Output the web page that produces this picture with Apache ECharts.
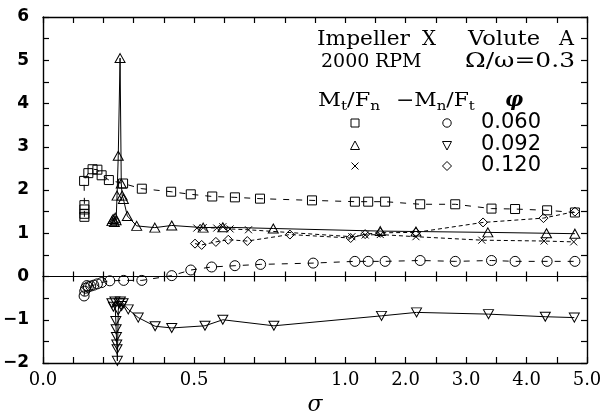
<!DOCTYPE html>
<html>
<head>
<meta charset="utf-8">
<script src="https://cdn.jsdelivr.net/npm/echarts@6/dist/echarts.min.js"></script>
<style>
  html, body { margin: 0; padding: 0; background: #fff; }
  #chart { width: 601px; height: 411px; }
</style>
</head>
<body>
<div id="chart"></div>
<script>
// σ axis: linear up to 1, then compressed (one unit of σ per 0.2 of axis)
const tickSigma = [0, 0.5, 1, 2, 3, 4, 5];
const tickLabels = ['0.0', '0.5', '1.0', '2.0', '3.0', '4.0', '5.0'];

// φ = 0.060 : Mt/Fn (squares) and −Mn/Ft (circles)
const sqSigma = [0.137, 0.137, 0.137, 0.137, 0.136, 0.150, 0.164, 0.180, 0.194, 0.218, 0.265, 0.327, 0.424, 0.489, 0.560, 0.635, 0.718, 0.890, 1.16, 1.38, 1.66, 2.24, 2.82, 3.42, 3.81, 4.34, 4.80];
const sqValue = [1.38, 1.45, 1.55, 1.65, 2.21, 2.39, 2.48, 2.47, 2.34, 2.23, 2.15, 2.03, 1.96, 1.90, 1.85, 1.83, 1.80, 1.76, 1.73, 1.73, 1.73, 1.67, 1.67, 1.57, 1.56, 1.53, 1.48];
const ciSigma = [0.136, 0.138, 0.141, 0.145, 0.150, 0.158, 0.168, 0.180, 0.194, 0.221, 0.267, 0.327, 0.426, 0.489, 0.558, 0.635, 0.720, 0.894, 1.16, 1.38, 1.66, 2.24, 2.82, 3.42, 3.81, 4.34, 4.80];
const ciValue = [-0.45, -0.34, -0.27, -0.21, -0.24, -0.22, -0.20, -0.17, -0.14, -0.10, -0.09, -0.09, 0.02, 0.15, 0.22, 0.25, 0.28, 0.31, 0.35, 0.35, 0.35, 0.37, 0.35, 0.37, 0.35, 0.35, 0.35];

// φ = 0.092 : Mt/Fn (up triangles) and −Mn/Ft (down triangles)
const tuSigma = [0.228, 0.232, 0.236, 0.239, 0.242, 0.245, 0.249, 0.255, 0.259, 0.262, 0.266, 0.279, 0.310, 0.370, 0.426, 0.530, 0.595, 0.762, 1.58, 2.17, 3.36, 4.33, 4.80];
const tuValue = [1.28, 1.33, 1.26, 1.36, 1.30, 1.87, 2.79, 5.05, 2.15, 1.87, 1.79, 1.40, 1.17, 1.13, 1.18, 1.13, 1.14, 1.11, 1.05, 1.04, 1.02, 1.00, 0.99];
const tdSigma = [0.228, 0.233, 0.238, 0.241, 0.242, 0.243, 0.244, 0.245, 0.246, 0.249, 0.252, 0.256, 0.260, 0.265, 0.282, 0.315, 0.371, 0.426, 0.536, 0.595, 0.764, 1.60, 2.18, 3.37, 4.31, 4.79];
const tdValue = [-0.62, -0.70, -0.58, -1.03, -1.22, -1.40, -1.57, -1.68, -1.95, -0.78, -0.62, -0.58, -0.68, -0.62, -0.76, -0.95, -1.15, -1.19, -1.14, -1.00, -1.14, -0.91, -0.83, -0.87, -0.93, -0.95];

// φ = 0.120 : Mt/Fn (crosses) and −Mn/Ft (diamonds)
const crSigma = [0.509, 0.530, 0.575, 0.595, 0.619, 0.680, 1.11, 1.33, 1.58, 2.17, 3.26, 4.29, 4.78];
const crValue = [1.12, 1.13, 1.12, 1.15, 1.10, 1.08, 0.92, 0.96, 0.97, 0.92, 0.84, 0.82, 0.80];
const diSigma = [0.503, 0.525, 0.572, 0.613, 0.676, 0.817, 1.09, 1.33, 1.58, 2.17, 3.28, 4.28, 4.80];
const diValue = [0.76, 0.73, 0.80, 0.85, 0.82, 0.97, 0.89, 0.98, 1.01, 1.02, 1.25, 1.35, 1.50];

function toAxis(s) { return s <= 1 ? s : 1 + (s - 1) / 5; }
function pairs(sig, val) { return sig.map((s, i) => [toAxis(s), val[i]]); }

const SERIF = '"DejaVu Serif"';
const SANS = '"DejaVu Sans"';
const BLACK = '#000';
const GRID = { left: 43, right: 14, top: 17, bottom: 48, outerBoundsMode: 'none' };
const X_MAX = toAxis(5);

function xLabel(v) {
  for (let i = 0; i < tickSigma.length; i++) {
    if (Math.abs(toAxis(tickSigma[i]) - v) < 1e-6) return tickLabels[i];
  }
  return '';
}
function yLabel(v) {
  if (Math.abs(v - Math.round(v)) > 1e-6) return '';
  const r = Math.round(v);
  return r < 0 ? '\u2212' + (-r) : String(r);
}

const frameLine = { show: true, onZero: false, lineStyle: { color: BLACK, width: 1.4 } };
const tick = (len) => ({ show: true, inside: true, length: len, lineStyle: { color: BLACK, width: 1.2 } });

function xAxisDef(extra) {
  return Object.assign({
    type: 'value', min: 0, max: X_MAX, interval: 0.1,
    axisLine: frameLine, axisTick: tick(6), splitLine: { show: false },
    axisLabel: { show: false }
  }, extra);
}
function yAxisDef(extra) {
  return Object.assign({
    type: 'value', min: -2, max: 6, interval: 0.5,
    axisLine: frameLine, axisTick: tick(6), splitLine: { show: false },
    axisLabel: { show: false }
  }, extra);
}

// zero line with ticks on both sides, drawn by two extra grids sharing the plot rectangle
const zeroLine = { show: true, onZero: true, lineStyle: { color: BLACK, width: 1.2 } };

function lineSeries(name, data, symbol, size, dash, extra) {
  return Object.assign({
    name, type: 'line', xAxisIndex: 0, yAxisIndex: 0, data,
    symbol, symbolSize: size, showAllSymbol: true,
    itemStyle: { color: 'rgba(0,0,0,0)', borderColor: BLACK, borderWidth: 1 },
    lineStyle: { color: BLACK, width: 1, type: dash },
    emphasis: { disabled: true }, animation: false, z: 3
  }, extra || {});
}

const CROSS = 'path://M0,0L10,10M10,0L0,10';

// text helpers
const measureCtx = document.createElement('canvas').getContext('2d');
function textWidth(text, font) { measureCtx.font = font; return measureCtx.measureText(text).width; }

// a word stretched horizontally to a given width, anchored at x
function fitText(x, y, text, font, width, align) {
  const w = textWidth(text, font);
  return { type: 'text', x, y, scaleX: width / w, silent: true,
    style: { text, font, fill: BLACK, align: align || 'left', verticalAlign: 'middle' } };
}
function txt(x, y, text, font, align) {
  return { type: 'text', x, y, silent: true,
    style: { text, font, fill: BLACK, align: align || 'left', verticalAlign: 'middle' } };
}
// runs of text (with subscripts) placed one after another, with a common stretch
function runText(x, y, runs, family, stretch) {
  const els = [];
  let cx = x;
  runs.forEach(r => {
    const font = r.size + 'px ' + family;
    els.push({ type: 'text', x: cx, y: y + (r.dy || 0), scaleX: stretch, silent: true,
      style: { text: r.t, font, fill: BLACK, align: 'left', verticalAlign: 'middle' } });
    cx += textWidth(r.t, font) * stretch;
  });
  return els;
}

const F20 = '20px ' + SERIF;
const F19 = '19px ' + SERIF;
const graphics = [
  fitText(317, 40, 'Impeller', F20, 93), fitText(422, 40, 'X', F20, 14),
  fitText(468, 40, 'Volute', F20, 72), fitText(574, 40, 'A', F20, 15, 'right'),
  txt(321, 62, '2000', F19), txt(375, 62, 'RPM', F19),
  fitText(575, 62, '\u03A9/\u03C9=0.3', F20, 110, 'right'),
  ...runText(318, 101, [{ t: 'M', size: 19 }, { t: 't', size: 13, dy: 6 }, { t: '/F', size: 19 }, { t: 'n', size: 13, dy: 6 }], SERIF, 1.18),
  ...runText(396, 101, [{ t: '\u2212M', size: 19 }, { t: 'n', size: 13, dy: 6 }, { t: '/F', size: 19 }, { t: 't', size: 13, dy: 6 }], SERIF, 1.15),
  txt(514, 101, '\u03C6', 'italic bold 20px ' + SERIF, 'center'),
  txt(511, 123, '0.060', '21px ' + SANS, 'center'),
  txt(511, 145, '0.092', '21px ' + SANS, 'center'),
  txt(511, 166, '0.120', '21px ' + SANS, 'center'),
  // legend markers
  { type: 'rect', silent: true, shape: { x: 351, y: 119, width: 8, height: 8 }, style: { fill: 'none', stroke: BLACK, lineWidth: 1 } },
  { type: 'circle', silent: true, shape: { cx: 447, cy: 123, r: 4.2 }, style: { fill: 'none', stroke: BLACK, lineWidth: 1 } },
  { type: 'polygon', silent: true, shape: { points: [[355, 141], [359.5, 149.5], [350.5, 149.5]] }, style: { fill: 'none', stroke: BLACK, lineWidth: 1 } },
  { type: 'polygon', silent: true, shape: { points: [[442.5, 141.5], [451.5, 141.5], [447, 150]] }, style: { fill: 'none', stroke: BLACK, lineWidth: 1 } },
  { type: 'line', silent: true, shape: { x1: 351.5, y1: 162.5, x2: 358.5, y2: 169.5 }, style: { stroke: BLACK, lineWidth: 1 } },
  { type: 'line', silent: true, shape: { x1: 358.5, y1: 162.5, x2: 351.5, y2: 169.5 }, style: { stroke: BLACK, lineWidth: 1 } },
  { type: 'polygon', silent: true, shape: { points: [[447, 161.5], [451.5, 166], [447, 170.5], [442.5, 166]] }, style: { fill: 'none', stroke: BLACK, lineWidth: 1 } }
];

const option = {
  backgroundColor: '#fff',
  animation: false,
  grid: [GRID, GRID, GRID],
  xAxis: [
    xAxisDef({ gridIndex: 0, position: 'bottom',
      axisLabel: { show: true, formatter: xLabel, color: BLACK, fontFamily: SERIF, fontSize: 18, margin: 8 },
      name: '\u03C3', nameLocation: 'middle', nameGap: 26,
      nameTextStyle: { color: BLACK, fontFamily: SERIF, fontStyle: 'italic', fontSize: 22 } }),
    xAxisDef({ gridIndex: 0, position: 'top' }),
    xAxisDef({ gridIndex: 1, position: 'bottom', axisLine: zeroLine, axisTick: tick(5) }),
    xAxisDef({ gridIndex: 2, position: 'top', axisLine: zeroLine, axisTick: tick(5) })
  ],
  yAxis: [
    yAxisDef({ gridIndex: 0, position: 'left',
      axisLabel: { show: true, formatter: yLabel, color: BLACK, fontFamily: SANS, fontWeight: 'bold', fontSize: 17, margin: 14 } }),
    yAxisDef({ gridIndex: 0, position: 'right' }),
    { gridIndex: 1, type: 'value', min: -2, max: 6, show: false },
    { gridIndex: 2, type: 'value', min: -2, max: 6, show: false }
  ],
  graphic: graphics,
  series: [
    lineSeries('Mt/Fn 0.060', pairs(sqSigma, sqValue), 'rect', 9, [6, 7]),
    lineSeries('-Mn/Ft 0.060', pairs(ciSigma, ciValue), 'circle', 10, [6, 7]),
    lineSeries('Mt/Fn 0.092', pairs(tuSigma, tuValue), 'triangle', [10, 9], 'solid'),
    lineSeries('-Mn/Ft 0.092', pairs(tdSigma, tdValue), 'triangle', [10, 9], 'solid', { symbolRotate: 180 }),
    lineSeries('Mt/Fn 0.120', pairs(crSigma, crValue), CROSS, 7, [4, 3]),
    lineSeries('-Mn/Ft 0.120', pairs(diSigma, diValue), 'diamond', 9, [4, 3])
  ]
};

const chart = echarts.init(document.getElementById('chart'), null, { renderer: 'canvas' });
chart.setOption(option);
</script>
</body>
</html>
